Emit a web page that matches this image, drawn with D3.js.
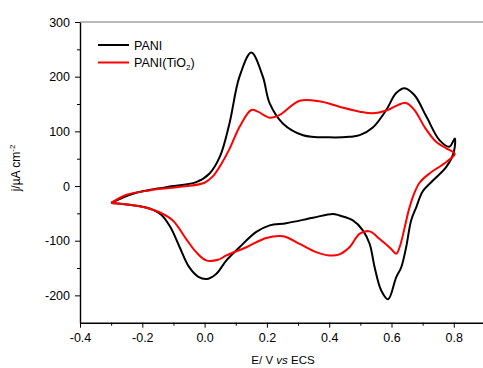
<!DOCTYPE html>
<html>
<head>
<meta charset="utf-8">
<script src="https://cdn.jsdelivr.net/npm/d3@7"></script>
<style>
  body { margin: 0; background: #fff; }
  svg { display: block; font-family: "Liberation Sans", Arial, sans-serif; }
</style>
</head>
<body>
<svg id="chart"></svg>
<script>
// PANI voltammogram (anodic sweep then cathodic sweep)
var paniE = [-0.30, -0.23, -0.123, -0.027, 0.016, 0.05, 0.08, 0.112, 0.15, 0.187, 0.209, 0.252, 0.316, 0.40, 0.465, 0.498, 0.54, 0.583, 0.615, 0.642, 0.674, 0.712, 0.754, 0.786, 0.803,
             0.80, 0.776, 0.733, 0.70, 0.68, 0.663, 0.647, 0.631, 0.615, 0.589, 0.567, 0.546, 0.53, 0.508, 0.476, 0.433, 0.412, 0.348, 0.262, 0.209, 0.166, 0.112, 0.07, 0.037, 0.008, -0.02, -0.05, -0.08, -0.11, -0.14, -0.177, -0.23, -0.30];
var paniJ = [-31, -14, -2, 7, 23, 55, 115, 200, 244, 200, 151, 114, 93, 89, 90, 93, 107, 139, 170, 179, 166, 127, 84, 72, 87,
             62, 35, 10, -10, -38, -63, -112, -149, -167, -207, -191, -149, -106, -81, -63, -54, -51, -58, -68, -72, -84, -112, -136, -161, -170, -166, -148, -112, -75, -52, -41, -35, -31];

// PANI(TiO2) voltammogram
var tioE = [-0.30, -0.25, -0.177, -0.07, 0.0, 0.027, 0.048, 0.08, 0.112, 0.15, 0.171, 0.209, 0.241, 0.305, 0.369, 0.433, 0.498, 0.54, 0.583, 0.62, 0.647, 0.674, 0.706, 0.743, 0.776, 0.803,
            0.776, 0.722, 0.69, 0.672, 0.655, 0.645, 0.626, 0.615, 0.599, 0.562, 0.53, 0.498, 0.465, 0.433, 0.40, 0.358, 0.305, 0.252, 0.198, 0.134, 0.07, 0.043, 0.005, -0.027, -0.059, -0.102, -0.145, -0.209, -0.30];
var tioJ = [-31, -16, -8, -1, 6, 18, 35, 68, 108, 139, 136, 125, 130, 156, 155, 145, 136, 133, 138, 148, 152, 139, 108, 81, 69, 59,
            44, 23, 6, -15, -45, -69, -112, -124, -115, -97, -83, -87, -112, -125, -127, -121, -106, -92, -95, -112, -127, -135, -136, -121, -97, -63, -48, -37, -31];

var xTicks = [-0.4, -0.2, 0.0, 0.2, 0.4, 0.6, 0.8];
var yTicks = [-200, -100, 0, 100, 200, 300];
var seriesNames = ["PANI", "PANI(TiO"];
var seriesColors = ["#000000", "#ff0000"];

var w = 483, h = 368;
var padLeft = 80, padTop = 22, padBottom = 322.7;

var svg = d3.select("#chart").attr("width", w).attr("height", h);

var x = d3.scaleLinear().domain([-0.4, 0.9]).range([padLeft, padLeft + 1.3 * 311.5]);
var y = d3.scaleLinear().domain([-250, 300]).range([padBottom, padTop]);

function hyphen(f){ return function(d){ return f(d).replace("\u2212", "-"); }; }

// frame top line (grey)
svg.append("line")
  .attr("x1", padLeft).attr("x2", w)
  .attr("y1", padTop).attr("y2", padTop)
  .attr("stroke", "#777").attr("stroke-width", 1.2);

// minor ticks
svg.append("g")
  .attr("transform", "translate(0," + padBottom + ")")
  .call(d3.axisBottom(x).tickValues([-0.3, -0.1, 0.1, 0.3, 0.5, 0.7]).tickSize(3).tickFormat(""))
  .call(function(g){ g.select(".domain").remove(); });
svg.append("g")
  .attr("transform", "translate(" + padLeft + ",0)")
  .call(d3.axisLeft(y).tickValues([-150, -50, 50, 150, 250]).tickSize(3).tickFormat(""))
  .call(function(g){ g.select(".domain").remove(); });

var xAxis = svg.append("g")
  .attr("transform", "translate(0," + padBottom + ")")
  .call(d3.axisBottom(x).tickValues(xTicks).tickSize(5).tickPadding(5).tickSizeOuter(0)
        .tickFormat(hyphen(d3.format(".1f"))));

var yAxis = svg.append("g")
  .attr("transform", "translate(" + padLeft + ",0)")
  .call(d3.axisLeft(y).tickValues(yTicks).tickSize(5).tickPadding(5).tickSizeOuter(0)
        .tickFormat(hyphen(d3.format("d"))));

[xAxis, yAxis].forEach(function(a){
  a.attr("font-size", 12.5).attr("font-family", "Liberation Sans, Arial, sans-serif");
  a.selectAll("text").attr("fill", "#000");
  a.select(".domain").attr("stroke-width", 1.4);
});
svg.selectAll(".tick line").attr("stroke", "#000").attr("stroke-width", 1);

// axis titles
var xt = svg.append("text")
  .attr("x", 283).attr("y", 364)
  .attr("text-anchor", "middle")
  .attr("font-size", 11.5);
xt.append("tspan").text("E/ V ");
xt.append("tspan").attr("font-style", "italic").text("vs");
xt.append("tspan").text(" ECS");

var yt = svg.append("text")
  .attr("transform", "translate(20,168) rotate(-90)")
  .attr("text-anchor", "middle")
  .attr("font-size", 12);
yt.append("tspan").text("j/\u00b5A cm");
yt.append("tspan").attr("font-size", 8).attr("dy", "-0.6em").text("-2");

// curves
var line = d3.line()
  .x(function(d){ return x(d[0]); })
  .y(function(d){ return y(d[1]); })
  .curve(d3.curveCatmullRom.alpha(0.5));

var series = [
  d3.zip(paniE, paniJ),
  d3.zip(tioE, tioJ)
];

svg.selectAll("path.cv")
  .data(series)
  .enter()
  .append("path")
    .attr("class", "cv")
    .attr("d", line)
    .attr("fill", "none")
    .attr("stroke", function(d, i){ return seriesColors[i]; })
    .attr("stroke-width", 2)
    .attr("stroke-linejoin", "round");

// legend
var leg = svg.append("g");
seriesNames.forEach(function(name, i){
  var ly = 45 + i * 17.5;
  leg.append("line")
    .attr("x1", 98).attr("x2", 129)
    .attr("y1", ly).attr("y2", ly)
    .attr("stroke", seriesColors[i]).attr("stroke-width", 2);
  var t = leg.append("text")
    .attr("x", 134).attr("y", ly + 4.5)
    .attr("font-size", 12.5)
    .text(name);
  if (i === 1) {
    t.append("tspan").attr("font-size", 8).attr("dy", 3).text("2");
    t.append("tspan").attr("dy", -3).text(")");
  }
});
</script>
</body>
</html>
